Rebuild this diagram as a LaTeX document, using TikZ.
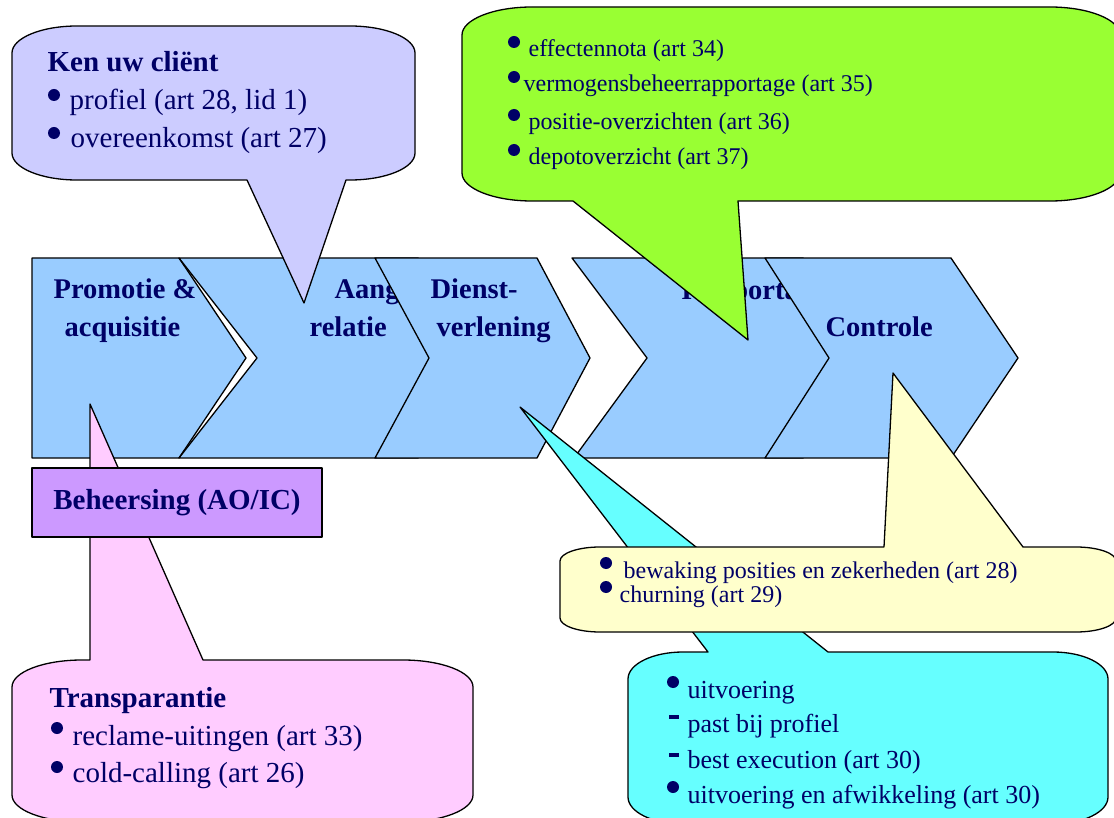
\documentclass[tikz,border=0pt]{standalone}
\usepackage{fontspec}
\setmainfont{Liberation Serif}
\definecolor{navy}{HTML}{000066}
\definecolor{chevblue}{HTML}{99CCFF}
\definecolor{lavfill}{HTML}{CCCCFF}
\definecolor{greenfill}{HTML}{99FF33}
\definecolor{pinkfill}{HTML}{FFCCFF}
\definecolor{purpfill}{HTML}{CC99FF}
\definecolor{cyanfill}{HTML}{66FFFF}
\definecolor{yelfill}{HTML}{FFFFCC}
\begin{document}
\begin{tikzpicture}[x=1pt,y=-1pt,line width=1.3pt,line join=round,
  chev/.style={draw=black,fill=chevblue},
  chevtext/.style={font=\fontsize{28.5}{34}\selectfont\bfseries,text=navy,anchor=base west,inner sep=0pt},
  headtext/.style={font=\fontsize{29}{34}\selectfont\bfseries,text=navy,anchor=base west,inner sep=0pt},
  bigtext/.style={font=\fontsize{29}{34}\selectfont,text=navy,anchor=base west,inner sep=0pt},
  midtext/.style={font=\fontsize{26}{30}\selectfont,text=navy,anchor=base west,inner sep=0pt},
  smalltext/.style={font=\fontsize{24}{28}\selectfont,text=navy,anchor=base west,inner sep=0pt},
  bul/.style={circle,fill=navy,inner sep=0pt,minimum size=12pt},
  dashbar/.style={rectangle,fill=navy,inner sep=0pt,minimum width=10pt,minimum height=3.5pt},
  callout/.style={draw=black}]
\useasboundingbox (0,0) rectangle (1114,818);
\clip (0,0) rectangle (1114,818);

% ---------- chevrons ----------
\draw[chev] (32,258) -- (179,258) -- (246,358) -- (179,458) -- (32,458) -- cycle;
\node[chevtext] (t1a) at (53,299) {Promotie \&};
\node[chevtext] (t1b) at (64,337) {acquisitie};

\draw[chev] (179,258) -- (418,258) -- (475,358) -- (418,458) -- (179,458) -- (257,358) -- cycle;
\node[chevtext] (t2a) at (334,299) {Aang};
\node[chevtext] (t2b) at (309,337) {relatie};

\draw[chev] (375,258) -- (537,258) -- (590,358) -- (537,458) -- (375,458) -- (429,358) -- cycle;
\node[chevtext] (t3a) at (430,299) {Dienst-};
\node[chevtext] (t3b) at (436,337) {verlening};

\draw[chev] (572,258) -- (803,258) -- (860,358) -- (803,458) -- (574,458) -- (647,358) -- cycle;
\node[chevtext] (t4a) at (681,300) {Rapportage};

\draw[chev] (765,258) -- (951,258) -- (1018,358) -- (951,458) -- (765,458) -- (829,358) -- cycle;
\node[chevtext] (t5a) at (825,337) {Controle};

% ---------- green callout ----------
\draw[callout,fill=greenfill] (532,7) -- (1050,7)
  arc[start angle=90,end angle=0,x radius=70pt,y radius=28pt] -- (1120,173)
  arc[start angle=0,end angle=-90,x radius=70pt,y radius=28pt] -- (738,201) -- (748,340) -- (573,201) -- (532,201)
  arc[start angle=-90,end angle=-180,x radius=70pt,y radius=28pt] -- (462,35)
  arc[start angle=180,end angle=90,x radius=70pt,y radius=28pt] -- cycle;
\node[bul] (gb1) at (514,42) {};
\node[smalltext] (g1) at (528,57) {effectennota (art 34)};
\node[bul] (gb2) at (514,77) {};
\node[smalltext] (g2) at (523,92) {vermogensbeheerrapportage (art 35)};
\node[bul] (gb3) at (514,115) {};
\node[smalltext] (g3) at (528,130) {positie-overzichten (art 36)};
\node[bul] (gb4) at (514,150) {};
\node[smalltext] (g4) at (528,165) {depotoverzicht (art 37)};

% ---------- lavender callout ----------
\draw[callout,fill=lavfill] (77,26) -- (350,26)
  arc[start angle=90,end angle=0,x radius=65pt,y radius=27pt] -- (415,153)
  arc[start angle=0,end angle=-90,x radius=65pt,y radius=27pt] -- (346,180) -- (304,303) -- (247,180) -- (77,180)
  arc[start angle=-90,end angle=-180,x radius=65pt,y radius=27pt] -- (12,53)
  arc[start angle=180,end angle=90,x radius=65pt,y radius=27pt] -- cycle;
\node[headtext] (lh) at (47,72) {Ken uw cliënt};
\node[bul] (lb1) at (54,95) {};
\node[bigtext] (l1) at (69,110) {profiel (art 28, lid 1)};
\node[bul] (lb2) at (54,133) {};
\node[bigtext] (l2) at (70,148) {overeenkomst (art 27)};

% ---------- pink callout ----------
\draw[callout,fill=pinkfill] (82,660) -- (90,660) -- (90,404) -- (203,660) -- (403,660)
  arc[start angle=90,end angle=0,x radius=70pt,y radius=27pt] -- (473,795)
  arc[start angle=0,end angle=-90,x radius=70pt,y radius=27pt] -- (82,822)
  arc[start angle=-90,end angle=-180,x radius=70pt,y radius=27pt] -- (12,687)
  arc[start angle=180,end angle=90,x radius=70pt,y radius=27pt] -- cycle;
\node[headtext] (ph) at (49,707) {Transparantie};
\node[bul] (pb1) at (57,728) {};
\node[bigtext] (p1) at (72,745) {reclame-uitingen (art 33)};
\node[bul] (pb2) at (57,767) {};
\node[bigtext] (p2) at (72,782) {cold-calling (art 26)};

% ---------- purple box ----------
\node[draw=black,fill=purpfill,minimum width=290pt,minimum height=69pt,inner sep=0pt,
  font=\fontsize{29}{34}\selectfont\bfseries,text=navy] (beh) at (177,502.5) {Beheersing (AO/IC)};

% ---------- cyan callout ----------
\draw[callout,fill=cyanfill] (683,652) -- (708,652) -- (520,407) -- (828,652) -- (1053,652)
  arc[start angle=90,end angle=0,x radius=55pt,y radius=27pt] -- (1108,797)
  arc[start angle=0,end angle=-90,x radius=55pt,y radius=27pt] -- (683,824)
  arc[start angle=-90,end angle=-180,x radius=55pt,y radius=27pt] -- (628,679)
  arc[start angle=180,end angle=90,x radius=55pt,y radius=27pt] -- cycle;
\node[bul] (cb1) at (673,682) {};
\node[midtext] (c1) at (687,698) {uitvoering};
\node[dashbar] (cd1) at (674,717) {};
\node[midtext] (c2) at (687,732) {past bij profiel};
\node[dashbar] (cd2) at (674,755) {};
\node[midtext] (c3) at (687,768) {best execution (art 30)};
\node[bul] (cb2) at (673,787) {};
\node[midtext] (c4) at (687,803) {uitvoering en afwikkeling (art 30)};

% ---------- yellow callout ----------
\draw[callout,fill=yelfill] (600,547) -- (884,547) -- (893,373) -- (1023,547) -- (1076,547)
  arc[start angle=90,end angle=0,x radius=40pt,y radius=14pt] -- (1116,618)
  arc[start angle=0,end angle=-90,x radius=40pt,y radius=14pt] -- (600,632)
  arc[start angle=-90,end angle=-180,x radius=40pt,y radius=14pt] -- (560,561)
  arc[start angle=180,end angle=90,x radius=40pt,y radius=14pt] -- cycle;
\node[bul] (yb1) at (606,563) {};
\node[smalltext] (y1) at (623,578) {bewaking posities en zekerheden (art 28)};
\node[bul] (yb2) at (606,587) {};
\node[smalltext] (y2) at (619,602) {churning (art 29)};
\end{tikzpicture}
\end{document}
